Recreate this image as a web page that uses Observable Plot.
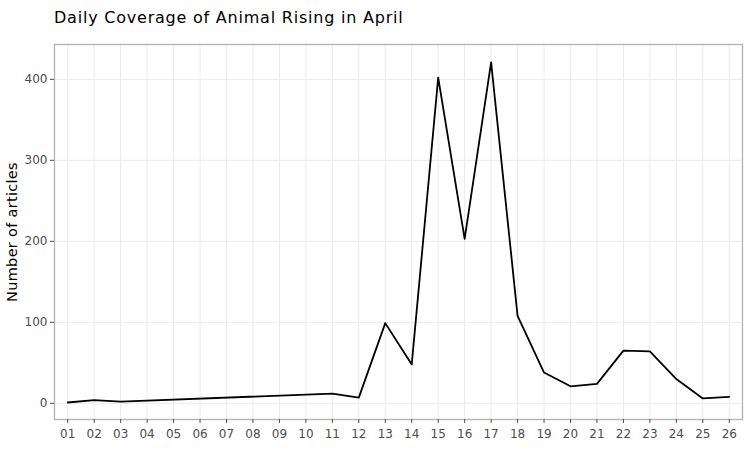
<!DOCTYPE html>
<html>
<head>
<meta charset="utf-8">
<script src="https://cdn.jsdelivr.net/npm/d3@7"></script>
<script src="https://cdn.jsdelivr.net/npm/@observablehq/plot@0.6"></script>
<style>
  html, body { margin: 0; padding: 0; background: #fff; }
  #title { font-family: "DejaVu Sans", sans-serif; font-size: 16px; line-height: 16px; letter-spacing: 0.78px; padding: 10px 0 0 54px; height: 26px; box-sizing: content-box; color: #000; }
  #chart svg { display: block; }
</style>
</head>
<body>
<div id="title">Daily Coverage of Animal Rising in April</div>
<div id="chart"></div>
<script>
const days = [1, 2, 3, 11, 12, 13, 14, 15, 16, 17, 18, 19, 20, 21, 22, 23, 24, 25, 26];
const articles = [1, 4, 2, 12, 7, 99, 48, 402, 203, 421, 108, 38, 21, 24, 65, 64, 30, 6, 8];
const tickDays = d3.range(1, 27);
const tickLabels = tickDays.map(d => String(d).padStart(2, "0"));
const yTicks = [0, 100, 200, 300, 400];
const yLabel = "Number of articles";

const data = days.map((d, i) => ({day: d, n: articles[i]}));

const chart = Plot.plot({
  width: 749,
  height: 428,
  marginLeft: 54,
  marginRight: 7,
  marginTop: 8,
  marginBottom: 45,
  style: {fontFamily: "DejaVu Sans, sans-serif", background: "#fff"},
  x: {type: "linear", domain: [0.5, 26.5]},
  y: {domain: [-20, 443]},
  marks: [
    Plot.gridX(tickDays, {stroke: "#ebebeb", strokeOpacity: 1, strokeWidth: 1}),
    Plot.gridY(yTicks, {stroke: "#ebebeb", strokeOpacity: 1, strokeWidth: 1}),
    Plot.frame({stroke: "#b3b3b3", strokeWidth: 1.3}),
    Plot.line(data, {x: "day", y: "n", stroke: "#000", strokeWidth: 1.8}),
    Plot.axisX({
      ticks: tickDays,
      tickFormat: d => tickLabels[tickDays.indexOf(d)],
      tickSize: 4,
      tickPadding: 6,
      fontSize: 12,
      color: "#4d4d4d",
      stroke: "#4d4d4d",
      label: null
    }),
    Plot.axisY({
      ticks: yTicks,
      tickSize: 4,
      tickPadding: 3,
      fontSize: 12,
      color: "#4d4d4d",
      stroke: "#4d4d4d",
      label: null
    }),
    Plot.text([yLabel], {
      frameAnchor: "left",
      dx: -42,
      rotate: -90,
      text: d => d,
      fontSize: 14.5,
      fill: "#000",
      textAnchor: "middle"
    })
  ]
});
chart.querySelectorAll("text").forEach(t => {
  if (t.textContent === yLabel) t.setAttribute("letter-spacing", "0.3");
});
document.getElementById("chart").appendChild(chart);
</script>
</body>
</html>
